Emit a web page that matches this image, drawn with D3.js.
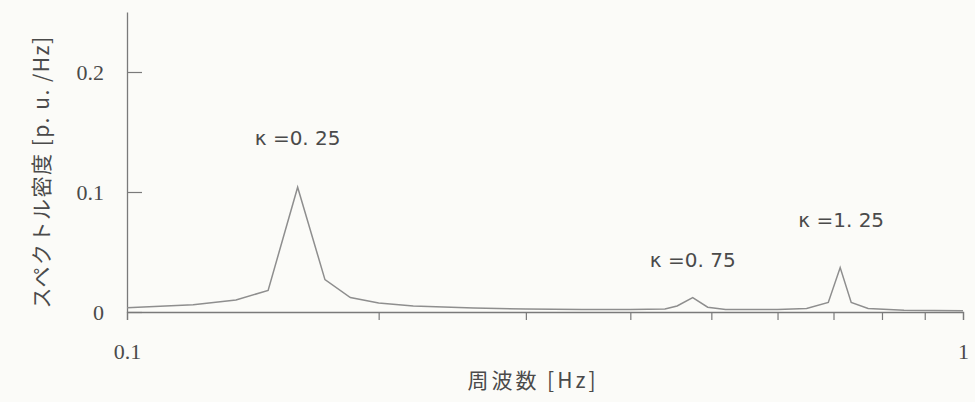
<!DOCTYPE html>
<html>
<head>
<meta charset="utf-8">
<script src="https://cdn.jsdelivr.net/npm/d3@7"></script>
<style>
  body { margin: 0; background: #fbfbf8; }
  svg { display: block; }
</style>
</head>
<body>
<div class="D3"></div>
<script>
// spectrum samples
var freqs = [0.1, 0.12, 0.135, 0.1475, 0.16, 0.1725, 0.185, 0.2, 0.22, 0.26, 0.3, 0.35, 0.4, 0.44, 0.455, 0.475, 0.495, 0.52, 0.6, 0.65, 0.69, 0.713, 0.735, 0.77, 0.85, 1.0];
var psd = [0.0035, 0.006, 0.010, 0.018, 0.104, 0.027, 0.012, 0.0075, 0.005, 0.0033, 0.0025, 0.002, 0.002, 0.0025, 0.005, 0.012, 0.004, 0.002, 0.002, 0.003, 0.008, 0.037, 0.008, 0.003, 0.0015, 0.001];

var peakLabels = ["\u03ba =0. 25", "\u03ba =0. 75", "\u03ba =1. 25"];
var peakFreqs = [0.16, 0.475, 0.715];
var peakLabelValues = [0.139, 0.0375, 0.071];

var xTickValues = [0.1, 0.2, 0.3, 0.4, 0.5, 0.6, 0.7, 0.8, 0.9, 1];
var xTickLabels = ["0.1", "", "", "", "", "", "", "", "", "1"];
var yTickValues = [0, 0.1, 0.2];
var yTickLabels = ["0", "0.1", "0.2"];

var svgWidth = 975;
var svgHeight = 402;

var margin = {
  top: 12,
  right: 12,
  bottom: 90,
  left: 127
};

var chartWidth = svgWidth - margin.left - margin.right;
var chartHeight = svgHeight - margin.top - margin.bottom;

var svg = d3.select(".D3")
  .append("svg")
  .attr("width", svgWidth)
  .attr("height", svgHeight);

var chartGroup = svg.append("g")
  .attr("transform", `translate(${margin.left}, ${margin.top})`);

var xLogScale = d3.scaleLog()
  .domain([0.1, 1])
  .range([0, 836]);

var yLinearScale = d3.scaleLinear()
  .domain([0, 0.25])
  .range([chartHeight, 0]);

var axisColor = "#7a7a7a";
var textColor = "#4a4a4a";

// x axis, ticks pointing down
var bottomAxis = d3.axisBottom(xLogScale)
  .tickValues(xTickValues)
  .tickSize(8)
  .tickFormat(function (d, i) { return xTickLabels[i]; });

var xAxis = chartGroup.append("g")
  .attr("transform", `translate(0, ${chartHeight})`)
  .call(bottomAxis);

xAxis.select(".domain").attr("stroke", axisColor).attr("stroke-width", 1.3);
xAxis.selectAll(".tick line").attr("stroke", axisColor).attr("stroke-width", 1.2);
xAxis.selectAll(".tick text")
  .attr("fill", textColor)
  .attr("font-family", "'Liberation Serif', 'DejaVu Serif', serif")
  .attr("font-size", 22)
  .attr("dy", null)
  .attr("y", 47);

// y axis, ticks pointing inward
var leftAxis = d3.axisLeft(yLinearScale)
  .tickValues(yTickValues)
  .tickSizeInner(-15)
  .tickSizeOuter(0)
  .tickPadding(23)
  .tickFormat(function (d, i) { return yTickLabels[i]; });

var yAxis = chartGroup.append("g").call(leftAxis);

yAxis.select(".domain").attr("stroke", axisColor).attr("stroke-width", 1.3);
yAxis.selectAll(".tick line").attr("stroke", axisColor).attr("stroke-width", 1.2);
yAxis.selectAll(".tick text")
  .attr("fill", textColor)
  .attr("font-family", "'Liberation Serif', 'DejaVu Serif', serif")
  .attr("font-size", 22);

// spectrum curve
var line = d3.line()
  .x(function (d, i) { return xLogScale(freqs[i]); })
  .y(function (d) { return yLinearScale(d); });

chartGroup.append("path")
  .datum(psd)
  .attr("d", line)
  .attr("fill", "none")
  .attr("stroke", "#8e8e8e")
  .attr("stroke-width", 1.5);

// peak labels
chartGroup.selectAll(".peak-label")
  .data(peakLabels)
  .enter()
  .append("text")
  .attr("class", "peak-label")
  .attr("x", function (d, i) { return xLogScale(peakFreqs[i]); })
  .attr("y", function (d, i) { return yLinearScale(peakLabelValues[i]); })
  .attr("text-anchor", "middle")
  .attr("fill", textColor)
  .attr("font-family", "'DejaVu Sans', 'Liberation Sans', sans-serif")
  .attr("font-size", 20)
  .text(function (d) { return d; });

// axis titles
svg.append("text")
  .attr("x", 533)
  .attr("y", 388)
  .attr("text-anchor", "middle")
  .attr("fill", textColor)
  .attr("font-family", "'Noto Sans CJK JP', sans-serif")
  .attr("font-size", 21)
  .attr("letter-spacing", 3)
  .text("周波数 [Hz]");

svg.append("text")
  .attr("transform", "translate(49, 172) rotate(-90)")
  .attr("text-anchor", "middle")
  .attr("fill", textColor)
  .attr("font-family", "'Noto Sans CJK JP', sans-serif")
  .attr("font-size", 21)
  .attr("letter-spacing", 1.5)
  .text("スペクトル密度 [p. u. /Hz]");
</script>
</body>
</html>
